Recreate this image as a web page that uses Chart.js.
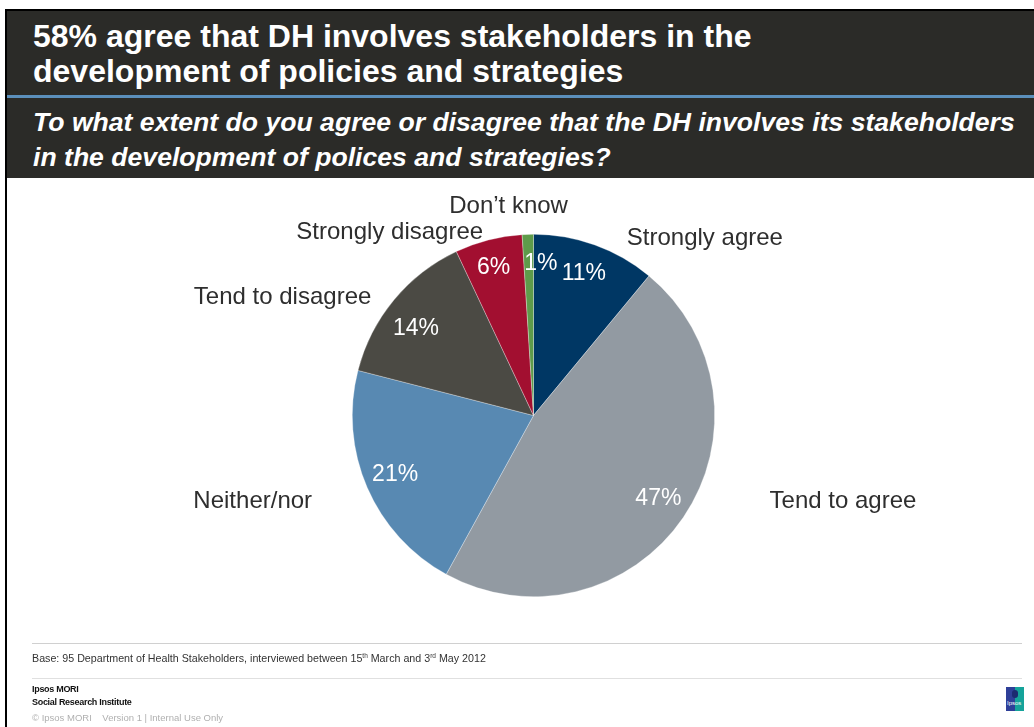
<!DOCTYPE html>
<html>
<head>
<meta charset="utf-8">
<script src="https://cdn.jsdelivr.net/npm/chart.js@4/dist/chart.umd.min.js"></script>
<style>
  html, body { margin: 0; padding: 0; background: #ffffff; }
  body { width: 1034px; height: 727px; position: relative; overflow: hidden; font-family: "Liberation Sans", Arial, sans-serif; }
  .abs { position: absolute; }
  #leftBorder { left: 5px; top: 9px; width: 2px; height: 718px; background: #000; }
  #topBorder { left: 5px; top: 9px; width: 1029px; height: 2px; background: #000; }
  #band1 { left: 7px; top: 11px; width: 1027px; height: 84px; background: #2b2b28; }
  #blueLine { left: 7px; top: 95px; width: 1027px; height: 3px; background: #5b8fbb; }
  #band2 { left: 7px; top: 98px; width: 1027px; height: 80px; background: #2b2b28; }
  .ttl { color: #fff; font-weight: bold; white-space: nowrap; transform-origin: 0 0; left: 33px; }
  .t1 { font-size: 32px; line-height: 32px; }
  .t2 { font-size: 26.6px; line-height: 27px; font-style: italic; }
  #footLine1 { left: 32px; top: 643px; width: 990px; height: 1px; background: #d0d0d0; }
  #footLine2 { left: 32px; top: 678px; width: 990px; height: 1px; background: #e0e0e0; }
  #base { left: 32px; top: 652px; font-size: 10.7px; color: #333; white-space: nowrap; }
  #base sup { font-size: 6.5px; vertical-align: 4px; }
  #mori1 { left: 32px; top: 684px; font-size: 9px; font-weight: bold; color: #111; white-space: nowrap; letter-spacing: -0.3px; }
  #mori2 { left: 32px; top: 697px; font-size: 9px; font-weight: bold; color: #111; white-space: nowrap; letter-spacing: -0.3px; }
  #copy { left: 32px; top: 712px; font-size: 9.5px; color: #b0b0b0; white-space: nowrap; }
  #logo { left: 1006px; top: 687px; width: 18px; height: 24px; background: linear-gradient(90deg, #2e3f98 0%, #2e3f98 50%, #15a39a 50%, #15a39a 100%); }
  #logo span { position: absolute; left: 1px; top: 13px; font-size: 6px; color: #fff; }
  #logo i { position: absolute; left: 6px; top: 3px; width: 6px; height: 8px; border-radius: 3px; background: #1c2a70; }
  #chartWrap { left: 0; top: 0; width: 1034px; height: 727px; }
</style>
</head>
<body>
<div class="abs" id="band1"></div>
<div class="abs" id="blueLine"></div>
<div class="abs" id="band2"></div>
<div class="abs" id="topBorder"></div>
<div class="abs" id="leftBorder"></div>
<div class="abs ttl t1" style="top:20px">58% agree that DH involves stakeholders in the</div>
<div class="abs ttl t1" style="top:55px">development of policies and strategies</div>
<div class="abs ttl t2" style="top:109px">To what extent do you agree or disagree that the DH involves its stakeholders</div>
<div class="abs ttl t2" style="top:144px">in the development of polices and strategies?</div>

<div class="abs" id="chartWrap"><canvas id="c" width="1034" height="727"></canvas></div>

<div class="abs" id="footLine1"></div>
<div class="abs" id="base">Base: 95 Department of Health Stakeholders, interviewed between 15<sup>th</sup> March and 3<sup>rd</sup> May 2012</div>
<div class="abs" id="footLine2"></div>
<div class="abs" id="mori1">Ipsos MORI</div>
<div class="abs" id="mori2">Social Research Institute</div>
<div class="abs" id="copy">© Ipsos MORI &nbsp;&nbsp; Version 1 | Internal Use Only</div>
<div class="abs" id="logo"><i></i><span>Ipsos</span></div>

<script>
// ---- Data ----
const categories = ["Strongly agree", "Tend to agree", "Neither/nor", "Tend to disagree", "Strongly disagree", "Don\u2019t know"];
const values = [11, 47, 21, 14, 6, 1];
const valueLabels = ["11%", "47%", "21%", "14%", "6%", "1%"];
const colors = ["#003764", "#929aa2", "#5889b2", "#4b4a44", "#a20f30", "#5e9b4a"];

// ---- Label layout (relative to pie centre, in units of radius) ----
const catLayout = [
  { dx: 0.515, dy: -0.94, align: "left" },
  { dx: 1.303, dy: 0.51, align: "left" },
  { dx: -1.222, dy: 0.51, align: "right" },
  { dx: -0.895, dy: -0.615, align: "right" },
  { dx: -0.278, dy: -0.972, align: "right" },
  { dx: 0.190, dy: -1.115, align: "right" }
];
const pctNudge = [[0, -2], [2, 0], [-2, 0], [-3, 8], [-3, -4], [12, -3]];

const labelPlugin = {
  id: "sliceLabels",
  afterDatasetsDraw(chart) {
    const ctx = chart.ctx;
    const meta = chart.getDatasetMeta(0);
    ctx.save();
    meta.data.forEach((arc, i) => {
      const p = arc.getProps(["x", "y", "startAngle", "endAngle", "outerRadius"], true);
      const mid = (p.startAngle + p.endAngle) / 2;
      const rr = p.outerRadius * 0.82;
      ctx.font = "23px 'Liberation Sans', Arial, sans-serif";
      ctx.fillStyle = "#ffffff";
      ctx.textAlign = "center";
      ctx.textBaseline = "middle";
      ctx.fillText(valueLabels[i], p.x + Math.cos(mid) * rr + pctNudge[i][0], p.y + Math.sin(mid) * rr + pctNudge[i][1]);
      const L = catLayout[i];
      ctx.font = "24px 'Liberation Sans', Arial, sans-serif";
      ctx.fillStyle = "#2e2e2e";
      ctx.textAlign = L.align;
      ctx.textBaseline = "alphabetic";
      ctx.fillText(categories[i], p.x + L.dx * p.outerRadius, p.y + L.dy * p.outerRadius);
    });
    ctx.restore();
  }
};

new Chart(document.getElementById("c"), {
  type: "pie",
  data: {
    labels: categories,
    datasets: [{
      data: values,
      backgroundColor: colors,
      borderColor: "rgba(255,255,255,0.5)",
      borderWidth: 0.6
    }]
  },
  options: {
    responsive: false,
    animation: false,
    rotation: 0,
    layout: { padding: { left: 352, right: 319, top: 234, bottom: 130 } },
    plugins: { legend: { display: false }, tooltip: { enabled: false }, title: { display: false } }
  },
  plugins: [labelPlugin]
});
</script>
</body>
</html>
